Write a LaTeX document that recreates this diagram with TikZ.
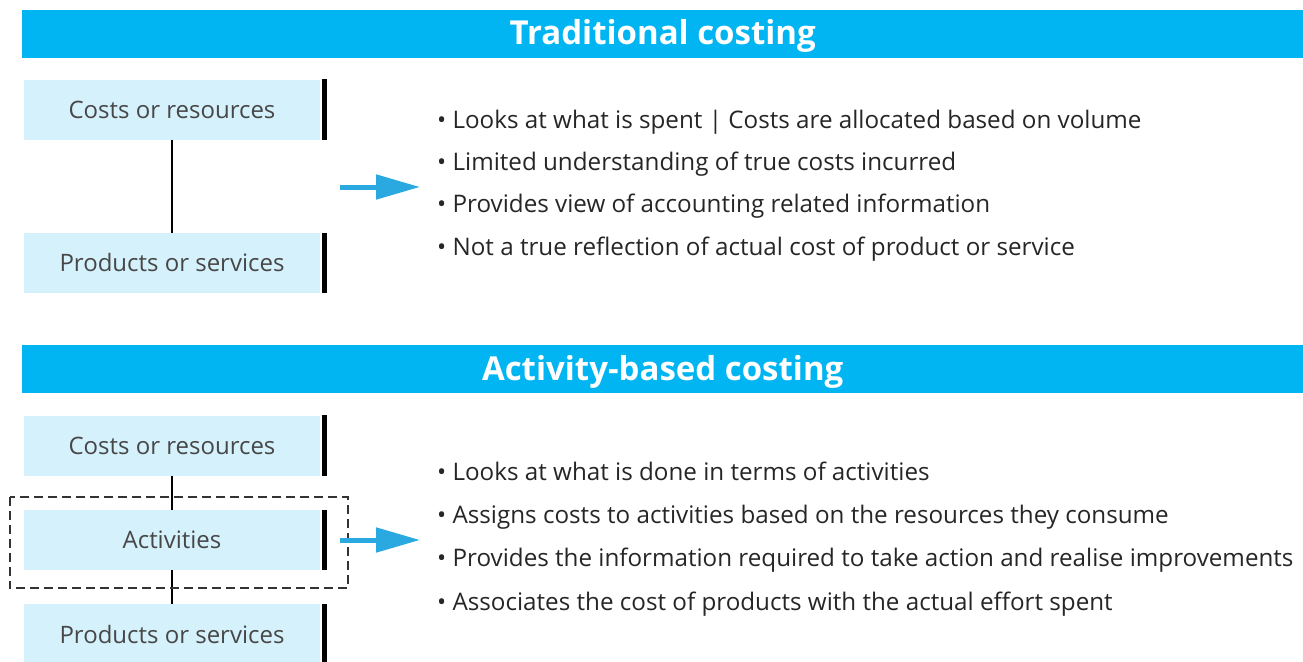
\documentclass[tikz,border=0pt]{standalone}
\usepackage{fontspec}
\setmainfont{Open Sans}
\usepackage{xcolor}
\usepackage{tikz}
\usetikzlibrary{arrows.meta, positioning}

\definecolor{bannerblue}{HTML}{00B5F1}
\definecolor{boxblue}{HTML}{D5F1FC}
\definecolor{arrowblue}{HTML}{2AA9E0}
\definecolor{inktext}{HTML}{262626}

\begin{document}
\begin{tikzpicture}[
  x=1pt, y=-1pt,
  banner/.style={rectangle, fill=bannerblue, text=white, anchor=west, minimum width=1281pt, minimum height=48pt, inner sep=0pt, text height=26pt, text depth=4pt, font=\fontsize{33}{36}\selectfont\bfseries},
  stage/.style={rectangle, fill=boxblue, text=inktext!85, minimum width=296pt, minimum height=60pt, inner sep=0pt, font=\fontsize{24}{28}\selectfont},
  item/.style={anchor=west, inner sep=0pt, text height=18pt, text depth=6pt, text=inktext, font=\fontsize{24.2}{28}\selectfont},
  bar/.style={line width=5pt, black},
  link/.style={line width=2pt, black},
  arrow/.style={-{Triangle[length=44pt, width=24pt]}, line width=5pt, arrowblue},
  group/.style={dashed, dash pattern=on 9pt off 5pt, line width=1.6pt, black!80}
]
\useasboundingbox (0,0) rectangle (1303,661);

% Traditional costing
\node[banner] (trad) at (22,34) {Traditional costing};
\node[stage] (res1) at (172,109.5) {Costs or resources};
\node[stage, below=93pt of res1] (prod1) {Products or services};

\draw[link] (res1.south) -- (prod1.north);
\draw[bar] ([xshift=4.5pt]res1.north east) -- ([xshift=4.5pt]res1.south east);
\draw[bar] ([xshift=4.5pt]prod1.north east) -- ([xshift=4.5pt]prod1.south east);

\coordinate (a1) at (340,187);
\coordinate (b1) at (420,187);
\draw[arrow] (a1) -- (b1);

\node[item] (t1) at (437,122) {\textbullet\ Looks at what is spent | Costs are allocated based on volume};
\node[item, below=18pt of t1.south west, anchor=north west] (t2) {\textbullet\ Limited understanding of true costs incurred};
\node[item, below=18pt of t2.south west, anchor=north west] (t3) {\textbullet\ Provides view of accounting related information};
\node[item, below=18pt of t3.south west, anchor=north west] (t4) {\textbullet\ Not a true reflection of actual cost of product or service};

% Activity-based costing
\node[banner] (abc) at (22,369) {Activity-based costing};
\node[stage] (res2) at (172,445.5) {Costs or resources};
\node[stage, below=34pt of res2] (act) {Activities};
\node[stage, below=34pt of act] (prod2) {Products or services};

\draw[link] (res2.south) -- (act.north);
\draw[link] (act.south) -- (prod2.north);
\foreach \b in {res2, act, prod2}
  \draw[bar] ([xshift=4.5pt]\b.north east) -- ([xshift=4.5pt]\b.south east);
\draw[group] ([shift={(-14pt,13pt)}]act.north west) rectangle ([shift={(28pt,-18pt)}]act.south east);

\coordinate (a2) at (340,540);
\coordinate (b2) at (420,540);
\draw[arrow] (a2) -- (b2);

\node[item] (u1) at (437,474) {\textbullet\ Looks at what is done in terms of activities};
\node[item, below=19pt of u1.south west, anchor=north west] (u2) {\textbullet\ Assigns costs to activities based on the resources they consume};
\node[item, below=19pt of u2.south west, anchor=north west] (u3) {\textbullet\ Provides the information required to take action and realise improvements};
\node[item, below=19pt of u3.south west, anchor=north west] (u4) {\textbullet\ Associates the cost of products with the actual effort spent};

\end{tikzpicture}
\end{document}
